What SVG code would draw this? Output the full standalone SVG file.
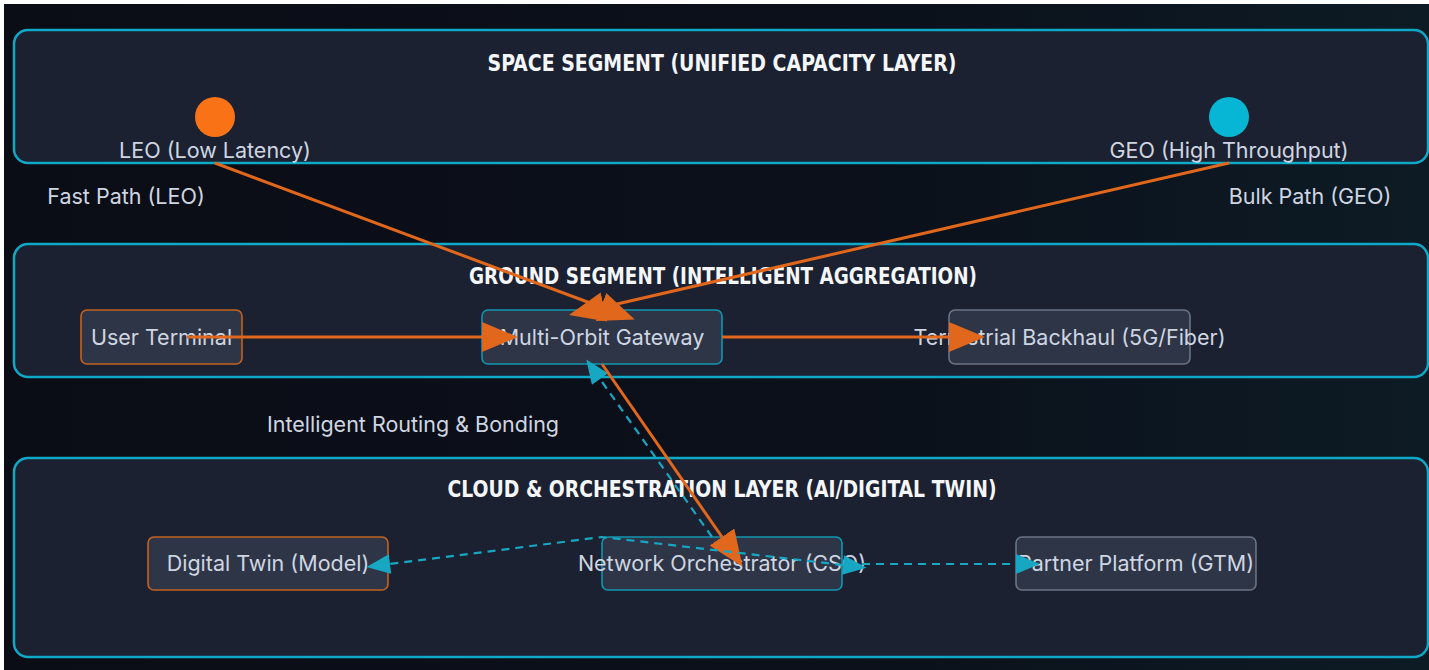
<svg xmlns="http://www.w3.org/2000/svg" width="1429" height="670" viewBox="0 0 1429 670">
<defs>
<linearGradient id="bg" x1="0" y1="0" x2="1" y2="0">
<stop offset="0" stop-color="#0b0d16"/>
<stop offset="0.6" stop-color="#0b101a"/>
<stop offset="1" stop-color="#0d1b25"/>
</linearGradient>
<marker id="arrO" viewBox="0 0 12 10" refX="0" refY="5" markerWidth="12" markerHeight="10" markerUnits="strokeWidth" orient="auto">
<path d="M0,0 L12,5 L0,10 Z" fill="#e0671c"/>
</marker>
<marker id="arrC" viewBox="0 0 12 10" refX="0" refY="5" markerWidth="11" markerHeight="9" markerUnits="strokeWidth" orient="auto-start-reverse">
<path d="M0,0 L12,5 L0,10 Z" fill="#17a7c2"/>
</marker>
<style>
.panel{fill:#1b2130;stroke:#0fa9c8;stroke-width:2.5}
.title{font-family:"DejaVu Sans Condensed","Liberation Sans Narrow",sans-serif;font-weight:bold;font-size:23px;fill:#f4f6fa;text-anchor:middle}
.lbl{font-family:Inter,"Liberation Sans",sans-serif;font-size:21.5px;fill:#cfd6e2;text-anchor:middle}
.node{fill:#2e3546;stroke-width:1.6}
.o{stroke:#c4631e}
.c{stroke:#1196b0}
.g{stroke:#6b7384}
.ol{stroke:#e0671c;stroke-width:3;fill:none}
.cl{stroke:#17a7c2;stroke-width:2.2;fill:none;stroke-dasharray:8 6}
</style>
</defs>
<rect width="1429" height="670" fill="#ffffff"/>
<rect x="4" y="4" width="1425" height="666" fill="url(#bg)"/>

<g id="space-segment">
<rect class="panel" x="14" y="30" width="1414" height="133" rx="14"/>
<text class="title" x="722" y="71" textLength="469" lengthAdjust="spacingAndGlyphs">SPACE SEGMENT (UNIFIED CAPACITY LAYER)</text>
</g>
<g id="ground-segment">
<rect class="panel" x="14" y="244" width="1414" height="133" rx="14"/>
<text class="title" x="723" y="284" textLength="508" lengthAdjust="spacingAndGlyphs">GROUND SEGMENT (INTELLIGENT AGGREGATION)</text>
</g>
<g id="cloud-layer">
<rect class="panel" x="14" y="458" width="1414" height="199" rx="14"/>
<text class="title" x="722" y="497" textLength="549" lengthAdjust="spacingAndGlyphs">CLOUD &amp; ORCHESTRATION LAYER (AI/DIGITAL TWIN)</text>
</g>

<g id="leo">
<circle cx="215" cy="117" r="20" fill="#f97316"/>
<text class="lbl" x="215" y="158">LEO (Low Latency)</text>
</g>
<g id="geo">
<circle cx="1229" cy="117" r="20" fill="#06b6d4"/>
<text class="lbl" x="1229" y="158">GEO (High Throughput)</text>
</g>

<g id="user-terminal">
<rect class="node o" x="81" y="310" width="161" height="54" rx="6"/>
<text class="lbl" x="161.5" y="345">User Terminal</text>
</g>
<g id="gateway">
<rect class="node c" x="482" y="310" width="240" height="54" rx="6"/>
<text class="lbl" x="602" y="345">Multi-Orbit Gateway</text>
</g>
<g id="backhaul">
<rect class="node g" x="949" y="310" width="241" height="54" rx="6"/>
<text class="lbl" x="1069.5" y="345">Terrestrial Backhaul (5G/Fiber)</text>
</g>
<g id="digital-twin">
<rect class="node o" x="148" y="537" width="240" height="53" rx="6"/>
<text class="lbl" x="268" y="571">Digital Twin (Model)</text>
</g>
<g id="orchestrator">
<rect class="node c" x="602" y="537" width="240" height="53" rx="6"/>
<text class="lbl" x="722" y="571">Network Orchestrator (CSO)</text>
</g>
<g id="partner">
<rect class="node g" x="1016" y="537" width="240" height="53" rx="6"/>
<text class="lbl" x="1136" y="571">Partner Platform (GTM)</text>
</g>

<g id="connectors">
<line class="ol" x1="215" y1="163" x2="601" y2="307" marker-end="url(#arrO)"/>
<line class="ol" x1="1229" y1="163" x2="604" y2="307" marker-end="url(#arrO)"/>
<line class="ol" x1="187" y1="337" x2="482" y2="337" marker-end="url(#arrO)"/>
<line class="ol" x1="722" y1="337" x2="949" y2="337" marker-end="url(#arrO)"/>
<line class="cl" x1="712" y1="537" x2="600" y2="379" marker-end="url(#arrC)"/>
<line class="ol" x1="602" y1="364" x2="722" y2="537" marker-end="url(#arrO)"/>
<path class="cl" d="M843,565 L602,537 L390,564" marker-start="url(#arrC)" marker-end="url(#arrC)"/>
<line class="cl" x1="862" y1="564" x2="1016" y2="564" marker-end="url(#arrC)"/>
</g>

<g id="edge-labels">
<text class="lbl" x="126" y="204">Fast Path (LEO)</text>
<text class="lbl" x="1310" y="204">Bulk Path (GEO)</text>
<text class="lbl" x="413" y="432">Intelligent Routing &amp; Bonding</text>
</g>
</svg>
